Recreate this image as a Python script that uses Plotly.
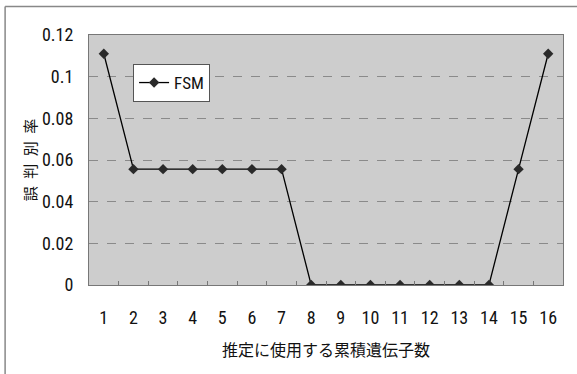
import plotly.graph_objects as go

genes = list(range(1, 17))
fsm_error = [0.111, 0.0556, 0.0556, 0.0556, 0.0556, 0.0556, 0.0556, 0,
             0, 0, 0, 0, 0, 0, 0.0556, 0.111]
y_ticks = [0, 0.02, 0.04, 0.06, 0.08, 0.1, 0.12]
y_tick_labels = ["0", "0.02", "0.04", "0.06", "0.08", "0.1", "0.12"]
series_name = "FSM"
x_title = "推定に使用する累積遺伝子数"
y_title = "誤\u2002判\u2002別\u2002率"

FONT = "Roboto Condensed, Noto Sans CJK JP, sans-serif"
CJK = "Noto Sans CJK JP"

fig = go.Figure()
fig.add_trace(go.Scatter(
    x=genes, y=fsm_error, mode="lines+markers", name=series_name,
    line=dict(color="#000000", width=1.3),
    marker=dict(symbol="diamond", size=8, color="#2a2a2a"),
))

fig.update_layout(
    width=577, height=374,
    margin=dict(l=89, r=14, t=35, b=89, autoexpand=False),
    paper_bgcolor="white", plot_bgcolor="#cdcdcd",
    font=dict(family=FONT, size=18, color="#111111"),
    showlegend=True,
    legend=dict(x=0.093, y=0.884, xanchor="left", yanchor="top",
                bgcolor="white", bordercolor="#555555", borderwidth=1,
                font=dict(size=17), itemwidth=30, tracegroupgap=0),
    xaxis=dict(range=[0.5, 16.5], tickmode="array", tickvals=genes,
               ticktext=[str(g) for g in genes], ticks="", showgrid=False,
               showline=True, linecolor="#777777", linewidth=1, mirror=True,
               zeroline=False, ticklabelstandoff=16, automargin=False,
               minor=dict(ticks="inside", tickvals=[g + 0.5 for g in genes[:-1]],
                          ticklen=4, tickcolor="#777777", showgrid=False),
               title=dict(text=x_title, font=dict(family=CJK, size=16), standoff=18)),
    yaxis=dict(range=[0, 0.12], tickmode="array", tickvals=y_ticks,
               ticktext=y_tick_labels, ticks="", showgrid=True,
               gridcolor="#8a8a8a", griddash="dash", gridwidth=1,
               showline=True, linecolor="#777777", linewidth=1, mirror=True,
               zeroline=False, ticklabelstandoff=11, automargin=False,
               title=dict(text=y_title, font=dict(family=CJK, size=15), standoff=1)),
)

# outer chart frame (only left and top edges visible in the reference)
fig.add_shape(type="line", xref="paper", yref="paper",
              x0=-0.177, x1=-0.177, y0=-0.4, y1=1.114,
              line=dict(color="#888888", width=1.5))
fig.add_shape(type="line", xref="paper", yref="paper",
              x0=-0.177, x1=1.03, y0=1.114, y1=1.114,
              line=dict(color="#888888", width=1.5))

fig.write_html("out.html", config={"displayModeBar": False},
               post_script="document.body.style.margin='0';")
